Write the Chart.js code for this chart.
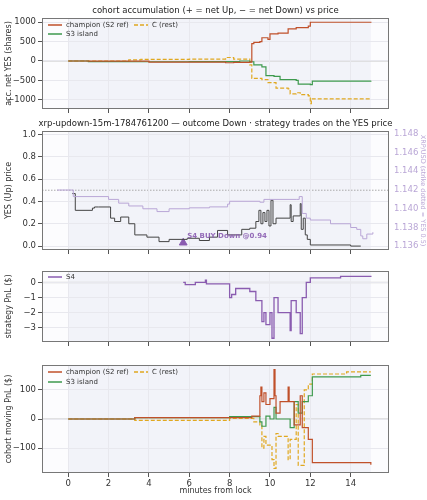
<!DOCTYPE html>
<html><head><meta charset="utf-8">
<script src="https://cdn.jsdelivr.net/npm/chart.js@4"></script>
<style>body{margin:0;width:427px;height:500px;background:#fff;position:relative;overflow:hidden}canvas{position:absolute;left:0}</style>
</head><body>
<canvas id="c1" style="top:0"></canvas>
<canvas id="c2" style="top:118px"></canvas>
<canvas id="c3" style="top:258px"></canvas>
<canvas id="c4" style="top:352px"></canvas>
<script>
const xTicks=[0,2,4,6,8,10,12,14];
// panel 1: accumulation (shares)
const accX_champ=[0,1,4,7.8,8.2,9.0,9.1,9.2,9.5,9.6,9.9,10.0,10.4,10.9,11.3,11.9,12.0,15];
const accY_champ=[0,-5,-30,-45,-35,-30,450,480,500,600,560,700,720,830,860,900,1000,990];
const accX_s3=[0,1,3,6,8.5,9.0,9.2,9.6,9.8,10.2,10.5,11.3,11.4,12.0,12.1,15];
const accY_s3=[0,-15,-20,-15,0,-20,-100,-150,-380,-400,-480,-500,-600,-610,-520,-510];
const accX_c=[0,3,3.6,6,7.8,8.2,9.0,9.1,9.6,9.9,10.1,10.3,10.9,11.0,11.3,11.5,11.9,12.0,12.05,15];
const accY_c=[0,30,40,50,90,50,-100,-450,-480,-560,-560,-700,-720,-850,-820,-870,-900,-1100,-980,-1000];
// panel 2: YES price and XRP
const yesX=[0.2,0.35,1.2,1.3,1.5,2.1,2.3,2.6,3.0,3.3,3.9,4.5,5.0,5.9,6.5,7.0,7.4,7.9,8.6,9.0,9.3,9.45,9.55,9.65,9.75,9.85,9.95,10.05,10.15,10.3,11.0,11.05,11.15,11.5,11.55,11.65,11.75,11.85,12.0,14.0,14.5];
const yesY=[0.47,0.32,0.34,0.35,0.35,0.25,0.22,0.26,0.2,0.1,0.08,0.04,0.06,0.07,0.05,0.08,0.14,0.1,0.15,0.16,0.22,0.32,0.2,0.3,0.22,0.32,0.18,0.41,0.2,0.25,0.37,0.22,0.27,0.38,0.15,0.25,0.1,0.06,0.01,0.0,0.0];
const xrpX=[-0.55,0.25,2.0,2.5,3.0,3.7,4.4,5.0,6.0,7.0,7.9,8.0,9.5,9.7,11.3,11.45,11.6,11.8,12.0,13.0,14.0,14.3,14.5,14.6,14.8,15.1];
const xrpY=[1.1420,1.1413,1.1410,1.1406,1.1403,1.1400,1.1397,1.1400,1.1401,1.1402,1.1405,1.1408,1.1407,1.1410,1.1410,1.1413,1.1395,1.1390,1.1388,1.1384,1.1380,1.1378,1.1371,1.1368,1.1373,1.1375];
const tradeX=[5.7], tradeY=[0.03];
// panel 3: S4 PnL
const s4X=[5.7,5.8,6.3,6.8,6.85,7.2,8.0,8.1,8.3,9.0,9.3,9.6,9.7,9.8,10.0,10.1,10.2,10.4,11.0,11.05,11.3,11.5,11.6,11.8,12.0,13.5,15];
const s4Y=[0,-0.15,0.0,0.15,-0.1,-0.1,-1.0,-0.8,-0.4,-0.6,-1.2,-2.6,-2.0,-2.8,-2.0,-3.7,-1.0,-2.0,-3.2,-1.2,-2.0,-3.4,-1.0,0,0.3,0.4,0.45];
// panel 4: moving PnL ($)
const pnlX_champ=[0,3.3,9.1,9.5,9.55,9.6,9.7,9.8,10.0,10.2,10.25,10.3,10.5,10.9,10.95,11.2,11.5,11.6,11.9,12.1,15];
const pnlY_champ=[0,5,10,80,110,60,90,50,70,170,80,20,60,110,60,-20,80,-30,-70,-150,-158];
const pnlX_s3=[0,3.3,8,9.5,9.6,9.8,10.0,10.2,10.3,11.0,11.2,11.4,11.6,11.9,12.1,14.5,15];
const pnlY_s3=[0,5,8,-10,-25,10,0,40,0,-30,60,20,60,80,145,150,150];
const pnlX_c=[0,3.3,8,9.2,9.5,9.6,9.7,9.8,10.1,10.2,10.3,10.4,10.9,11.0,11.3,11.4,11.7,11.9,12.1,13.8,15];
const pnlY_c=[0,-5,2,-10,-20,-100,-60,-90,-140,-170,-50,-60,-140,-70,50,-160,100,120,155,162,162];

const zip=(a,b)=>a.map((x,i)=>({x,y:b[i]}));
const F='DejaVu Sans';
Chart.defaults.font.family=F;Chart.defaults.font.size=8.5;Chart.defaults.color='#333';
const RED='#c0502a',GRN='#3e9a4e',YEL='#e0a820',PUR='#8a5cb0',LPUR='#b9a6d6';
const L=42,R=389;
function bgPlugin(title,legend,hlines){return{id:'bg',
 beforeDraw(ch){const {ctx,chartArea:a,scales}=ch;const x=scales.x;
  ctx.save();ctx.fillStyle='#fcfcfe';ctx.fillRect(a.left,a.top,a.right-a.left,a.bottom-a.top);
  ctx.fillStyle='#f2f3f9';const x0=x.getPixelForValue(0),x1=x.getPixelForValue(15);
  ctx.fillRect(x0,a.top,x1-x0,a.bottom-a.top);
  (hlines||[]).forEach(h=>{const y=scales.y.getPixelForValue(h.v);ctx.strokeStyle=h.c;ctx.lineWidth=h.w||1;ctx.setLineDash(h.d||[]);ctx.beginPath();ctx.moveTo(a.left,y);ctx.lineTo(a.right,y);ctx.stroke();});
  ctx.restore();},
 afterDraw(ch){const {ctx,chartArea:a}=ch;ctx.save();ctx.strokeStyle='#777';ctx.lineWidth=1;ctx.setLineDash([]);
  ctx.strokeRect(a.left+0.5,a.top+0.5,a.right-a.left-1,a.bottom-a.top-1);
  if(title){ctx.fillStyle='#222';ctx.font='8.5px '+F;ctx.textAlign='center';ctx.textBaseline='bottom';ctx.fillText(title,(a.left+a.right)/2,a.top-3);}
  if(legend){ctx.font='7px '+F;ctx.textBaseline='middle';ctx.textAlign='left';
   legend.forEach(g=>{const lx=a.left+g.dx,ly=a.top+g.dy;ctx.strokeStyle=g.c;ctx.lineWidth=1.5;ctx.setLineDash(g.d||[]);ctx.beginPath();ctx.moveTo(lx,ly);ctx.lineTo(lx+14,ly);ctx.stroke();ctx.setLineDash([]);ctx.fillStyle='#333';ctx.fillText(g.t,lx+18,ly);});}
  ctx.restore();}}}
function ds(data,color,dash,w){return{data,borderColor:color,borderWidth:w||1.2,borderDash:dash||[],stepped:true,pointRadius:0,fill:false};}
function xScale(show,h){return{type:'linear',min:-1.3,max:15.9,afterFit(s){s.height=h},
 afterBuildTicks(s){s.ticks=xTicks.map(v=>({value:v}))},
 ticks:{callback:v=>show?v:'',color:'#333',padding:2,maxRotation:0},
 grid:{color:'#e8e8ee',tickLength:4,tickColor:'#555'},border:{display:false},
 title:{display:show,text:'minutes from lock',color:'#333',font:{size:8},padding:{top:0}}};}
function yScale(min,max,ticks,title,extra){return Object.assign({type:'linear',min,max,afterFit(s){s.width=L},
 afterBuildTicks(s){s.ticks=ticks.map(v=>({value:v}))},
 ticks:{color:'#333',padding:2,callback:v=>String(v).replace('-','\u2212')},
 grid:{color:'#e8e8ee',tickLength:4,tickColor:'#555'},border:{display:false},
 title:{display:true,text:title,color:'#333',font:{size:8},padding:{bottom:2}}},extra||{});}
function make(id,h,padTop,xh,datasets,scales,plugin,padRight){
 const c=document.getElementById(id);c.width=427;c.height=h;c.style.width='427px';c.style.height=h+'px';
 return new Chart(c,{type:'line',data:{datasets},plugins:[plugin],
  options:{responsive:false,animation:false,devicePixelRatio:1,parsing:true,
   layout:{padding:{left:0,right:padRight,top:padTop,bottom:0}},
   plugins:{legend:{display:false},tooltip:{enabled:false}},scales}});}
// Panel 1
make('c1',120,18,11,[ds(zip(accX_champ,accY_champ),RED),ds(zip(accX_s3,accY_s3),GRN),ds(zip(accX_c,accY_c),YEL,[4,2])],
 {x:xScale(false,11),y:yScale(-1240,1110,[-1000,-500,0,500,1000],'acc. net YES (shares)')},
 bgPlugin('cohort accumulation (+ = net Up, \u2212 = net Down) vs price',[{dx:6,dy:7,c:RED,t:'champion (S2 ref)'},{dx:6,dy:16,c:GRN,t:'S3 island'},{dx:92,dy:7,c:YEL,d:[4,2],t:'C (rest)'}],[{v:0,c:'#d8d8d8',w:1.5}]),38);
// Panel 2
const tri={data:zip(tradeX,tradeY),pointStyle:'triangle',pointRadius:4.5,backgroundColor:PUR,borderColor:PUR,showLine:false,yAxisID:'y'};
const p2plugin=bgPlugin('xrp-updown-15m-1784761200 \u2014 outcome Down \u00b7 strategy trades on the YES price',null,[{v:0.5,c:'#aaa',d:[1.5,1.5]}]);
const lbl={id:'lbl',afterDatasetsDraw(ch){const {ctx,scales}=ch;ctx.save();ctx.fillStyle=PUR;ctx.globalAlpha=0.9;ctx.font='bold 7px '+F;ctx.textBaseline='middle';
 ctx.fillText('S4 BUY Down @0.94',scales.x.getPixelForValue(5.7)+4,scales.y.getPixelForValue(0.085));ctx.restore();}};
(function(){const c=document.getElementById('c2');c.width=427;c.height=140;
 new Chart(c,{type:'line',data:{datasets:[ds(zip(xrpX,xrpY),LPUR,[],1),ds(zip(yesX,yesY),'#444',[],1),tri].map((d,i)=>i===0?Object.assign(d,{yAxisID:'y2'}):d)},
 plugins:[p2plugin,lbl],options:{responsive:false,animation:false,devicePixelRatio:1,layout:{padding:{top:13,right:0}},
  plugins:{legend:{display:false},tooltip:{enabled:false}},
  scales:{x:xScale(false,8),y:yScale(-0.035,1.03,[0,0.2,0.4,0.6,0.8,1.0],'YES (Up) price',{ticks:{color:'#333',padding:2,callback:v=>v.toFixed(1)}}),
   y2:{position:'right',type:'linear',min:1.1356,max:1.1483,afterFit(s){s.width=38},afterBuildTicks(s){s.ticks=[1.136,1.138,1.14,1.142,1.144,1.146,1.148].map(v=>({value:v}))},
    ticks:{color:LPUR,padding:2,callback:v=>v.toFixed(3)},grid:{display:false,drawOnChartArea:false,tickLength:3,tickColor:LPUR},border:{display:false},
    title:{display:true,text:'XRP/USD (strike dotted = YES 0.5)',color:LPUR,font:{size:6.5},padding:{top:0,bottom:0}}}}}});})();
// Panel 3
make('c3',94,13,10,[ds(zip(s4X,s4Y),PUR,[],1.3)],
 {x:xScale(false,10),y:yScale(-3.95,0.76,[-3,-2,-1,0],'strategy PnL ($)')},
 bgPlugin(null,[{dx:6,dy:6,c:PUR,t:'S4'}],[{v:0,c:'#d8d8d8',w:1.5}]),38);
// Panel 4
make('c4',148,13,27,[ds(zip(pnlX_champ,pnlY_champ),RED),ds(zip(pnlX_s3,pnlY_s3),GRN),ds(zip(pnlX_c,pnlY_c),YEL,[4,2])],
 {x:xScale(true,27),y:yScale(-186,186,[-100,0,100],'cohort moving PnL ($)')},
 bgPlugin(null,[{dx:6,dy:7,c:RED,t:'champion (S2 ref)'},{dx:6,dy:17,c:GRN,t:'S3 island'},{dx:92,dy:7,c:YEL,d:[4,2],t:'C (rest)'}],[{v:0,c:'#d8d8d8',w:1.5}]),38);
</script></body></html>
